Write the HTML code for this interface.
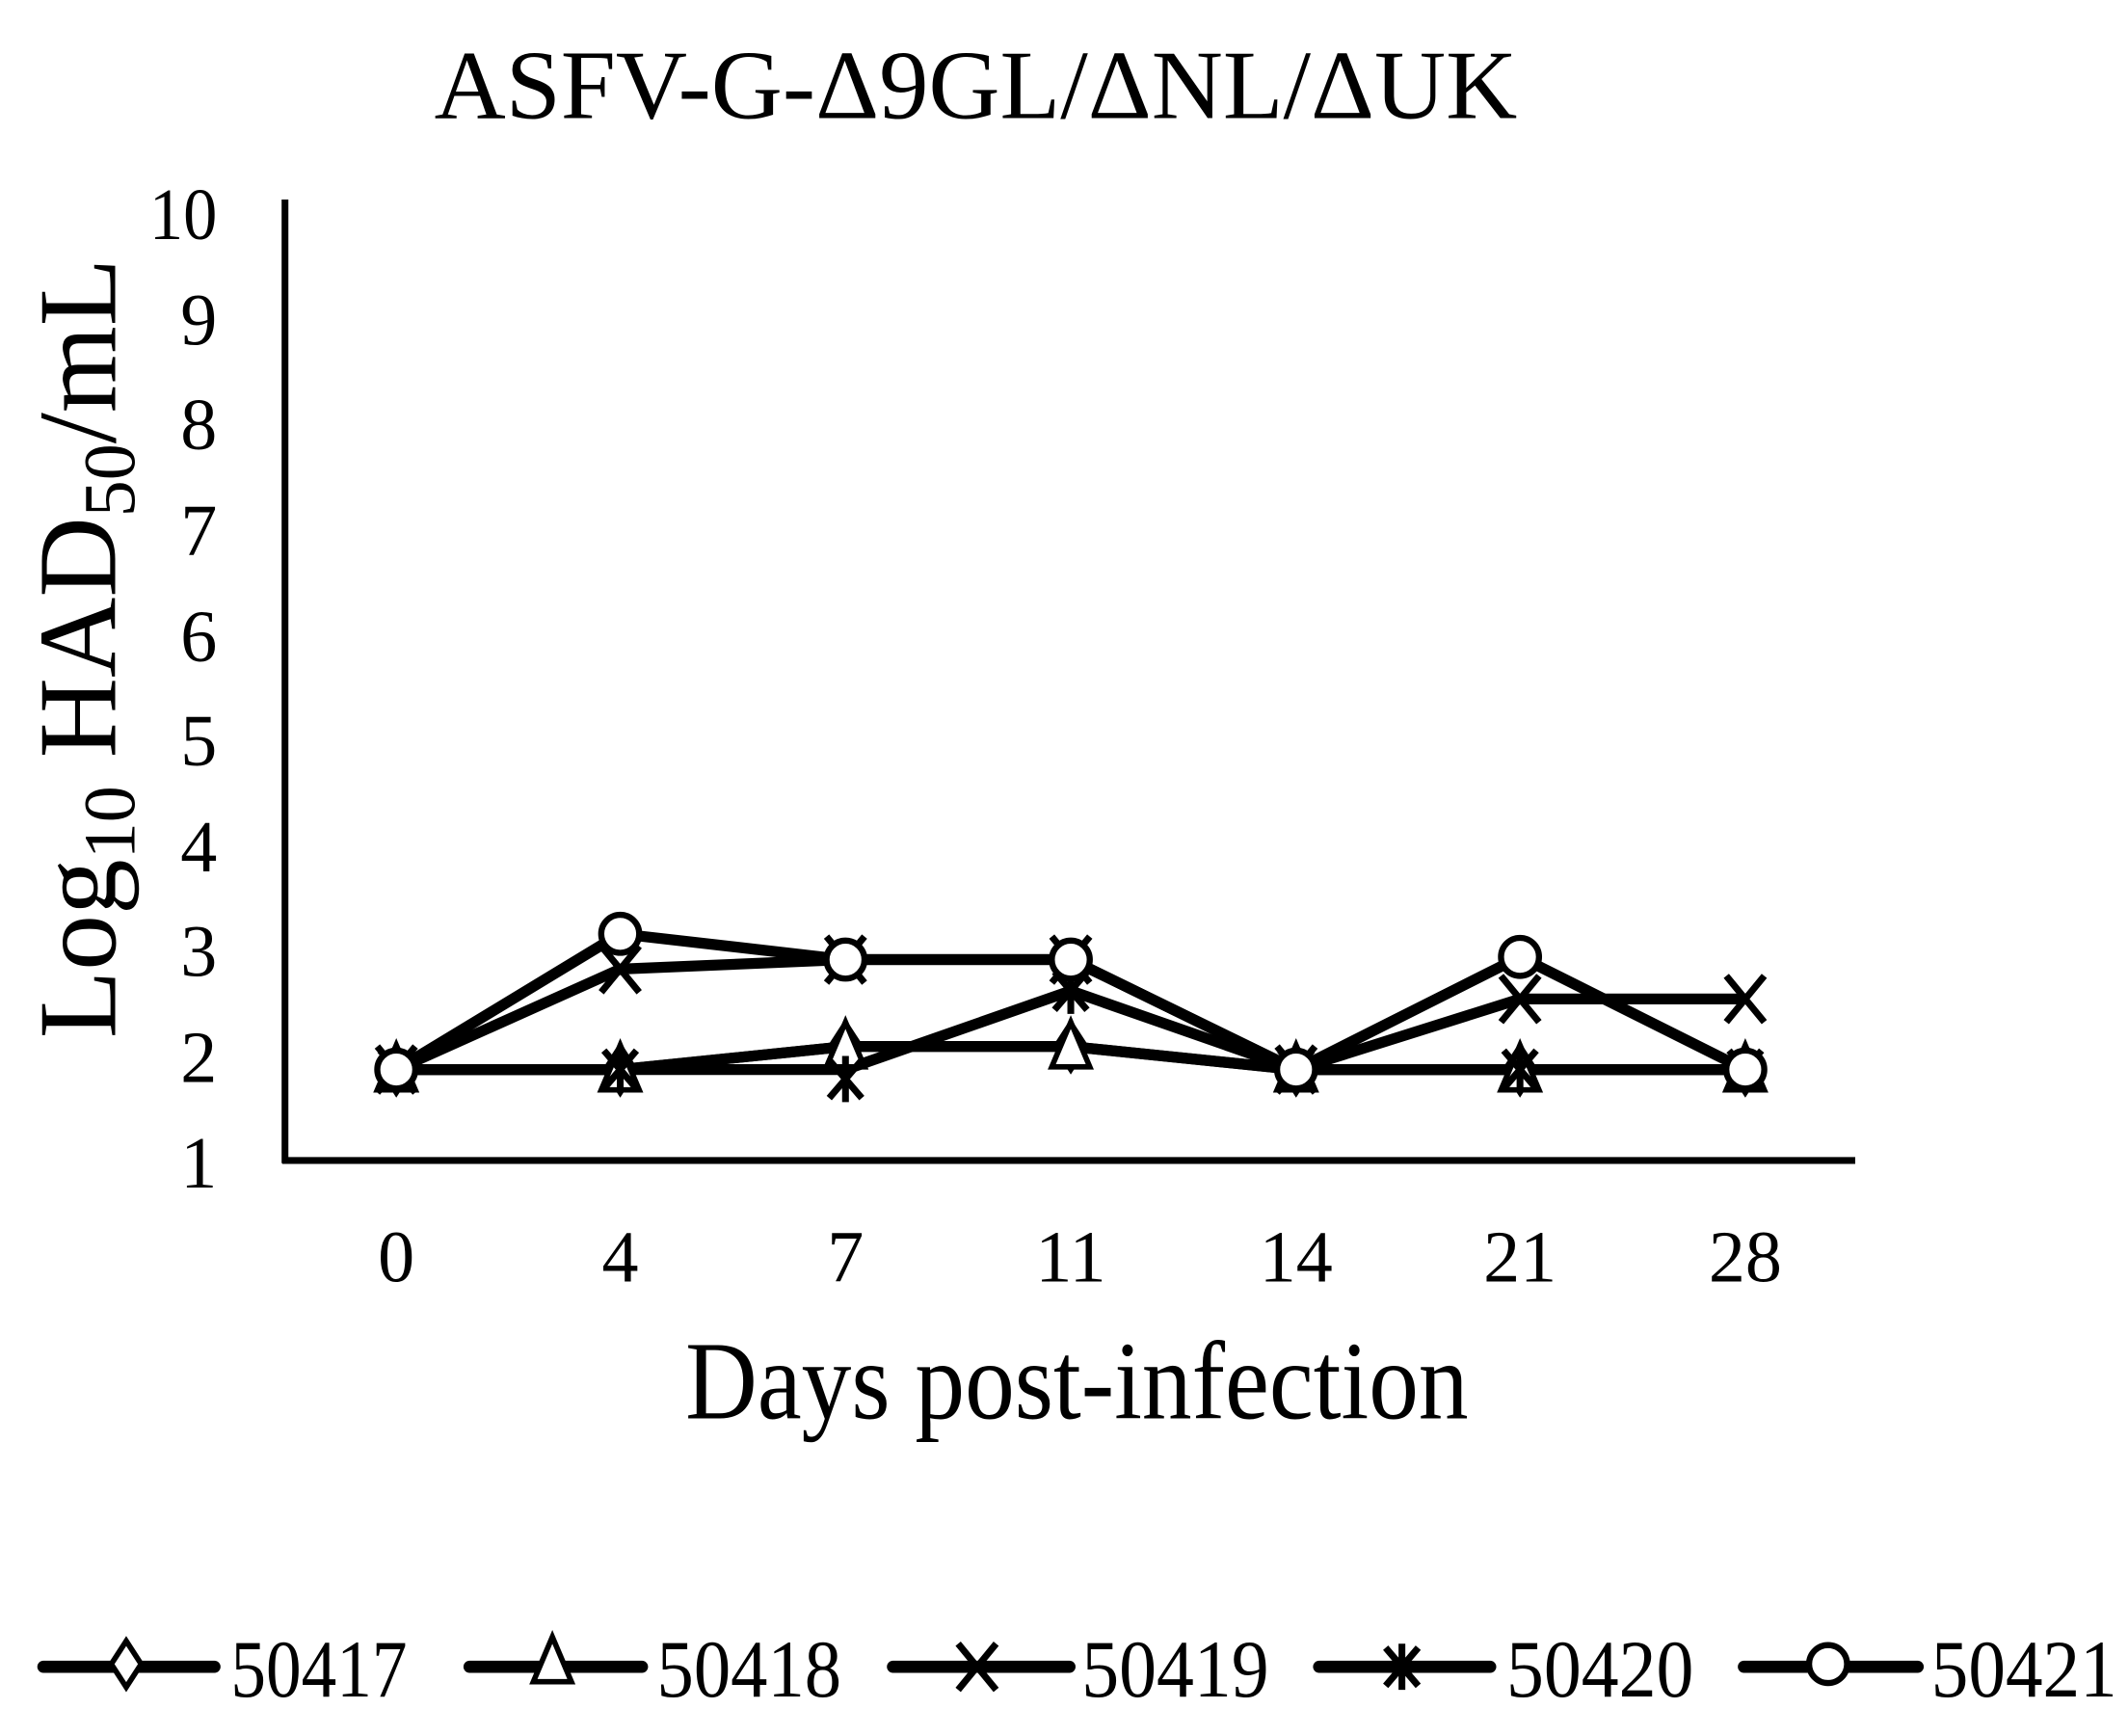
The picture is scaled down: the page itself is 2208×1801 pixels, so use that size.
<!DOCTYPE html>
<html><head><style>html,body{margin:0;padding:0;background:#fff;}svg{display:block;}</style></head>
<body>
<svg width="2208" height="1801" viewBox="0 0 1568 1279" preserveAspectRatio="none" xmlns="http://www.w3.org/2000/svg" font-family="Liberation Serif, serif" fill="#000">
<text x="320" y="87" font-size="72" textLength="798" lengthAdjust="spacingAndGlyphs">ASFV-G-Δ9GL/ΔNL/ΔUK</text>
<g stroke="#000" stroke-width="5" fill="none">
<line x1="210" y1="147" x2="210" y2="857"/>
<line x1="208" y1="855" x2="1367" y2="855"/>
</g>
<g font-size="54" text-anchor="end">
<text x="160" y="176" textLength="50" lengthAdjust="spacingAndGlyphs">10</text>
<text x="160" y="254">9</text><text x="160" y="331">8</text><text x="160" y="409">7</text>
<text x="160" y="487">6</text><text x="160" y="564">5</text><text x="160" y="642">4</text>
<text x="160" y="719">3</text><text x="160" y="797">2</text><text x="160" y="875">1</text>
</g>
<g font-size="54" text-anchor="middle">
<text x="292" y="944">0</text><text x="457" y="944">4</text><text x="623" y="944">7</text>
<text x="789" y="944">11</text><text x="955" y="944">14</text><text x="1120" y="944">21</text><text x="1286" y="944">28</text>
</g>
<text x="505" y="1045" font-size="82" textLength="577" lengthAdjust="spacingAndGlyphs">Days post-infection</text>
<text transform="translate(85,765) rotate(-90)" font-size="82">Log<tspan font-size="54" dy="14">10</tspan><tspan dy="-14"> HAD</tspan><tspan font-size="54" dy="14">50</tspan><tspan dy="-14">/mL</tspan></text>
<defs>
<g id="dia"><polygon points="0,-17 11,0 0,17 -11,0" fill="#fff" stroke="#000" stroke-width="4"/></g>
<g id="tri"><polygon points="0,-20 14,13 -14,13" fill="#fff" stroke="#000" stroke-width="4"/></g>
<g id="x"><path d="M-14,-17L14,17M14,-17L-14,17" stroke="#000" stroke-width="5"/></g>
<g id="ast"><path d="M-12,-14L12,14M12,-14L-12,14M0,-17V17" stroke="#000" stroke-width="5"/></g>
<g id="cir"><circle r="14" fill="#fff" stroke="#000" stroke-width="4.5"/></g>
</defs>
<g fill="none" stroke="#000" stroke-width="8" stroke-linejoin="round">
<polyline points="292,788 457,788 623,771 789,771 955,788 1120,788 1286,788"/>
<polyline points="292,788 457,788 623,771 789,771 955,788 1120,788 1286,788"/>
<polyline points="292,788 457,714 623,707 789,707 955,788 1120,736 1286,736"/>
<polyline points="292,788 457,788 623,788 789,730 955,788 1120,788 1286,788"/>
<polyline points="292,788 457,688 623,707 789,707 955,788 1120,705 1286,788"/>
</g>
<g>
<use href="#dia" x="292" y="788"/><use href="#dia" x="457" y="788"/><use href="#dia" x="623" y="771"/><use href="#dia" x="789" y="771"/><use href="#dia" x="955" y="788"/><use href="#dia" x="1120" y="788"/><use href="#dia" x="1286" y="788"/>
<use href="#tri" x="292" y="790"/><use href="#tri" x="457" y="790"/><use href="#tri" x="623" y="773"/><use href="#tri" x="789" y="773"/><use href="#tri" x="955" y="790"/><use href="#tri" x="1120" y="790"/><use href="#tri" x="1286" y="790"/>
<use href="#x" x="292" y="788"/><use href="#x" x="457" y="714"/><use href="#x" x="623" y="707"/><use href="#x" x="789" y="707"/><use href="#x" x="955" y="788"/><use href="#x" x="1120" y="736"/><use href="#x" x="1286" y="736"/>
<use href="#ast" x="292" y="788"/><use href="#ast" x="457" y="788"/><use href="#ast" x="623" y="795"/><use href="#ast" x="789" y="730"/><use href="#ast" x="955" y="788"/><use href="#ast" x="1120" y="788"/><use href="#ast" x="1286" y="788"/>
<use href="#cir" x="292" y="788"/><use href="#cir" x="457" y="688"/><use href="#cir" x="623" y="707"/><use href="#cir" x="789" y="707"/><use href="#cir" x="955" y="788"/><use href="#cir" x="1120" y="705"/><use href="#cir" x="1286" y="788"/>
</g>
<g stroke="#000" stroke-width="9" stroke-linecap="round">
<line x1="32" y1="1228" x2="158" y2="1228"/><line x1="346" y1="1228" x2="473" y2="1228"/>
<line x1="658" y1="1228" x2="788" y2="1228"/><line x1="972" y1="1228" x2="1098" y2="1228"/>
<line x1="1285" y1="1228" x2="1413" y2="1228"/>
</g>
<use href="#dia" x="93" y="1226"/><use href="#tri" x="407" y="1226"/><use href="#x" x="720" y="1228"/><use href="#ast" x="1033" y="1228"/><use href="#cir" x="1347" y="1226"/>
<g font-size="60">
<text x="170" y="1250" textLength="130" lengthAdjust="spacingAndGlyphs">50417</text>
<text x="484" y="1250" textLength="136" lengthAdjust="spacingAndGlyphs">50418</text>
<text x="797" y="1250" textLength="138" lengthAdjust="spacingAndGlyphs">50419</text>
<text x="1110" y="1250" textLength="138" lengthAdjust="spacingAndGlyphs">50420</text>
<text x="1423" y="1250" textLength="137" lengthAdjust="spacingAndGlyphs">50421</text>
</g>
</svg>
</body></html>
